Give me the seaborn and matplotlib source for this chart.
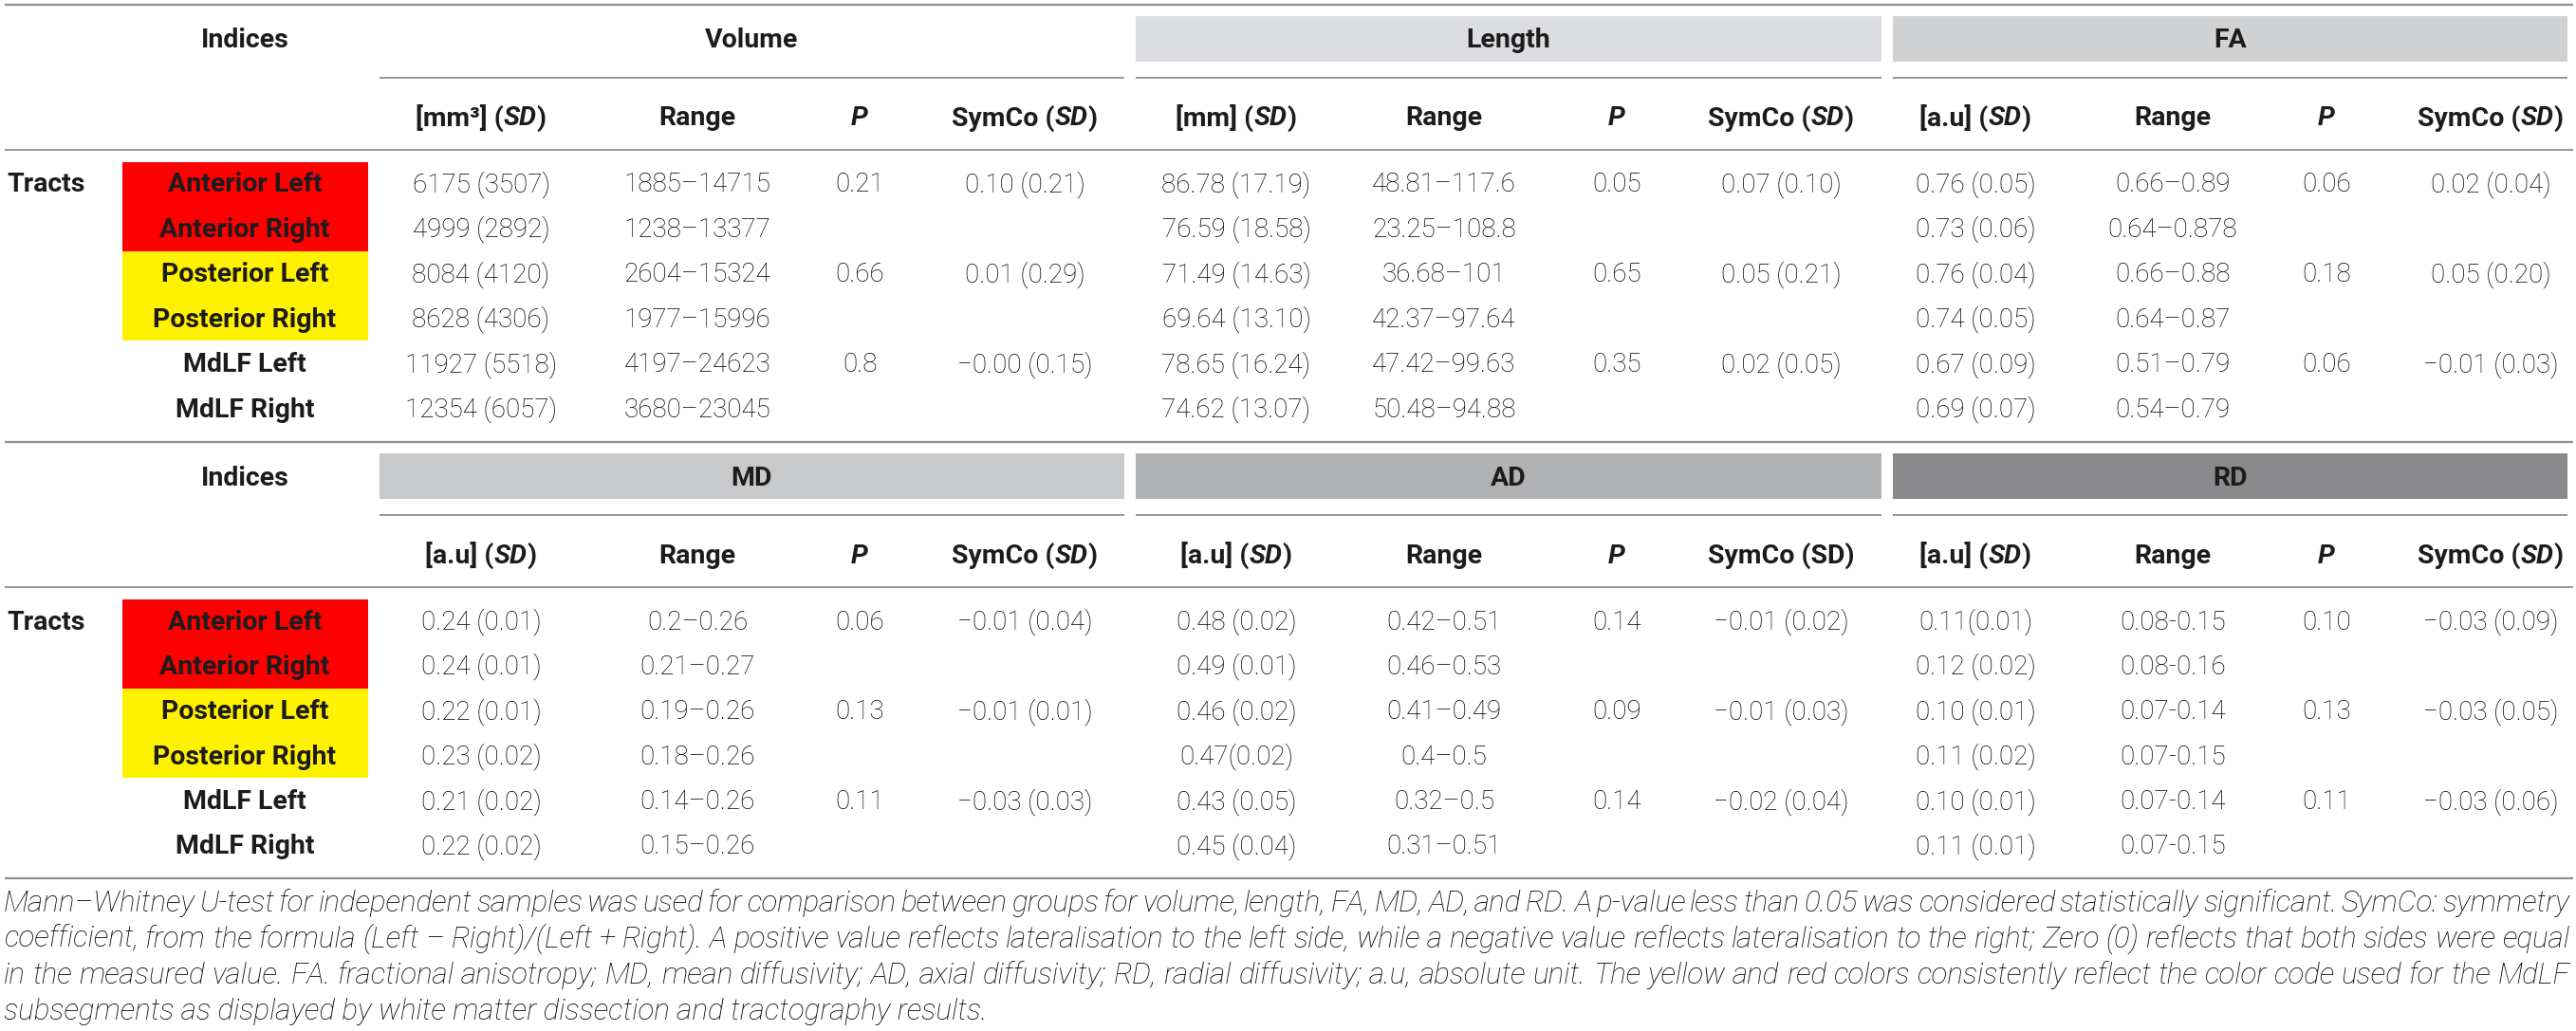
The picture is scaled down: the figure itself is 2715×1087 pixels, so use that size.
import matplotlib
matplotlib.use("Agg")
import matplotlib.pyplot as plt
import seaborn as sns

# ---------------- data ----------------
tracts = ["Anterior Left", "Anterior Right", "Posterior Left",
          "Posterior Right", "MdLF Left", "MdLF Right"]
tract_colors = ["#ff0000", "#ff0000", "#fff200", "#fff200", None, None]

volume_mean = ["6175 (3507)", "4999 (2892)", "8084 (4120)", "8628 (4306)", "11927 (5518)", "12354 (6057)"]
volume_range = ["1885–14715", "1238–13377", "2604–15324", "1977–15996", "4197–24623", "3680–23045"]
volume_p = ["0.21", "", "0.66", "", "0.8", ""]
volume_symco = ["0.10 (0.21)", "", "0.01 (0.29)", "", "−0.00 (0.15)", ""]

length_mean = ["86.78 (17.19)", "76.59 (18.58)", "71.49 (14.63)", "69.64 (13.10)", "78.65 (16.24)", "74.62 (13.07)"]
length_range = ["48.81–117.6", "23.25–108.8", "36.68–101", "42.37–97.64", "47.42–99.63", "50.48–94.88"]
length_p = ["0.05", "", "0.65", "", "0.35", ""]
length_symco = ["0.07 (0.10)", "", "0.05 (0.21)", "", "0.02 (0.05)", ""]

fa_mean = ["0.76 (0.05)", "0.73 (0.06)", "0.76 (0.04)", "0.74 (0.05)", "0.67 (0.09)", "0.69 (0.07)"]
fa_range = ["0.66–0.89", "0.64–0.878", "0.66–0.88", "0.64–0.87", "0.51–0.79", "0.54–0.79"]
fa_p = ["0.06", "", "0.18", "", "0.06", ""]
fa_symco = ["0.02 (0.04)", "", "0.05 (0.20)", "", "−0.01 (0.03)", ""]

md_mean = ["0.24 (0.01)", "0.24 (0.01)", "0.22 (0.01)", "0.23 (0.02)", "0.21 (0.02)", "0.22 (0.02)"]
md_range = ["0.2–0.26", "0.21–0.27", "0.19–0.26", "0.18–0.26", "0.14–0.26", "0.15–0.26"]
md_p = ["0.06", "", "0.13", "", "0.11", ""]
md_symco = ["−0.01 (0.04)", "", "−0.01 (0.01)", "", "−0.03 (0.03)", ""]

ad_mean = ["0.48 (0.02)", "0.49 (0.01)", "0.46 (0.02)", "0.47(0.02)", "0.43 (0.05)", "0.45 (0.04)"]
ad_range = ["0.42–0.51", "0.46–0.53", "0.41–0.49", "0.4–0.5", "0.32–0.5", "0.31–0.51"]
ad_p = ["0.14", "", "0.09", "", "0.14", ""]
ad_symco = ["−0.01 (0.02)", "", "−0.01 (0.03)", "", "−0.02 (0.04)", ""]

rd_mean = ["0.11(0.01)", "0.12 (0.02)", "0.10 (0.01)", "0.11 (0.02)", "0.10 (0.01)", "0.11 (0.01)"]
rd_range = ["0.08-0.15", "0.08-0.16", "0.07-0.14", "0.07-0.15", "0.07-0.14", "0.07-0.15"]
rd_p = ["0.10", "", "0.13", "", "0.11", ""]
rd_symco = ["−0.03 (0.09)", "", "−0.03 (0.05)", "", "−0.03 (0.06)", ""]

top_groups = ["Volume", "Length", "FA"]
bottom_groups = ["MD", "AD", "RD"]
top_group_colors = [None, "#dcdde0", "#d0d1d3"]
bottom_group_colors = ["#c8c9cb", "#b1b2b4", "#8a8a8c"]

top_units = [[("[mm³] (", "normal"), ("SD", "italic"), (")", "normal")],
             [("[mm] (", "normal"), ("SD", "italic"), (")", "normal")],
             [("[a.u] (", "normal"), ("SD", "italic"), (")", "normal")]]
bottom_units = [[("[a.u] (", "normal"), ("SD", "italic"), (")", "normal")]] * 3
symco_hdr = [("SymCo (", "normal"), ("SD", "italic"), (")", "normal")]
symco_hdr_plain = [("SymCo (SD)", "normal")]

caption_lines = [
    "Mann–Whitney U-test for independent samples was used for comparison between groups for volume, length, FA, MD, AD, and RD. A p-value less than 0.05 was considered statistically significant. SymCo: symmetry",
    "coefficient, from the formula (Left – Right)/(Left + Right). A positive value reflects lateralisation to the left side, while a negative value reflects lateralisation to the right; Zero (0) reflects that both sides were equal",
    "in the measured value. FA. fractional anisotropy; MD, mean diffusivity; AD, axial diffusivity; RD, radial diffusivity; a.u, absolute unit. The yellow and red colors consistently reflect the color code used for the MdLF",
    "subsegments as displayed by white matter dissection and tractography results.",
]

# ---------------- style ----------------
sns.set_theme(style="white")
FONT = ["Roboto", "DejaVu Sans"]
plt.rcParams["font.family"] = FONT
TXT = "#1e1b1c"
DATA_TXT = "#000000"
LINE = "#8f8f8f"
FSB = 20.5     # bold header / names
FSL = 20.0     # light data
CFS = 22.6     # caption

W, H = 2715, 1087
fig = plt.figure(figsize=(W / 100, H / 100), dpi=100)
ax = fig.add_axes([0, 0, 1, 1])
ax.set_xlim(0, W)
ax.set_ylim(H, 0)
ax.axis("off")
sns.despine(ax=ax, left=True, bottom=True)
renderer = fig.canvas.get_renderer()

col_x = [507, 735, 906, 1080, 1303, 1522, 1704, 1877, 2082, 2290, 2452, 2625]
spans = [(400, 1185), (1197, 1983), (1995, 2706)]
name_x = 258
box_x0, box_x1 = 129, 388
ROWH = 47.4
BASE_OFF = 9.5


def text_width(s, fs, **kw):
    t = ax.text(0, 0, s, fontsize=fs, **kw)
    bb = t.get_window_extent(renderer=renderer)
    t.remove()
    return bb.width


def rich(xc, yc, segs, weight="bold", fs=FSB):
    widths = [text_width(s, fs, fontstyle=st, fontweight=weight) for s, st in segs]
    x = xc - sum(widths) / 2
    for (s, st), w in zip(segs, widths):
        ax.text(x, yc + BASE_OFF, s, fontsize=fs, fontstyle=st, fontweight=weight,
                color=TXT, ha="left", va="baseline")
        x += w


def hline(y, x0=5, x1=2712, lw=1.3):
    ax.plot([x0, x1], [y, y], color=LINE, lw=lw, solid_capstyle="butt")


def draw_table(y_top, groups, gcolors, units, blocks, symco_variants):
    band_top = y_top + 12
    band_bot = y_top + 60
    for (x0, x1), g, c in zip(spans, groups, gcolors):
        if c is not None:
            ax.add_patch(plt.Rectangle((x0, band_top), x1 - x0, band_bot - band_top,
                                       facecolor=c, edgecolor="none"))
        ax.text((x0 + x1) / 2, (band_top + band_bot) / 2 + BASE_OFF, g, fontsize=FSB,
                fontweight="bold", color=TXT, ha="center", va="baseline")
        hline(y_top + 77, x0, x1, lw=1.3)
    ax.text(name_x, (band_top + band_bot) / 2 + BASE_OFF, "Indices", fontsize=FSB,
            fontweight="bold", color=TXT, ha="center", va="baseline")
    hy = y_top + 118
    for gi in range(3):
        rich(col_x[gi * 4], hy, units[gi])
        rich(col_x[gi * 4 + 1], hy, [("Range", "normal")])
        rich(col_x[gi * 4 + 2], hy, [("P", "italic")])
        rich(col_x[gi * 4 + 3], hy, symco_variants[gi])
    hline(y_top + 153)
    row0 = y_top + 188
    box_top = y_top + 166
    for i, (name, c) in enumerate(zip(tracts, tract_colors)):
        if c is not None:
            ax.add_patch(plt.Rectangle((box_x0, box_top + i * 47), box_x1 - box_x0, 47,
                                       facecolor=c, edgecolor="none"))
        y = row0 + i * ROWH + BASE_OFF
        ax.text(name_x, y, name, fontsize=FSB, fontweight="bold", color=TXT,
                ha="center", va="baseline")
    ax.text(7, row0 + BASE_OFF, "Tracts", fontsize=FSB, fontweight="bold", color=TXT,
            ha="left", va="baseline")
    for ci, col in enumerate(blocks):
        for i, v in enumerate(col):
            if v:
                ax.text(col_x[ci], row0 + i * ROWH + BASE_OFF, v, fontsize=FSL,
                        fontweight="light", color=DATA_TXT, ha="center", va="baseline")


hline(5, lw=1.6)
draw_table(5, top_groups, top_group_colors, top_units,
           [volume_mean, volume_range, volume_p, volume_symco,
            length_mean, length_range, length_p, length_symco,
            fa_mean, fa_range, fa_p, fa_symco],
           [symco_hdr, symco_hdr, symco_hdr])
hline(466, lw=1.6)
draw_table(466, bottom_groups, bottom_group_colors, bottom_units,
           [md_mean, md_range, md_p, md_symco,
            ad_mean, ad_range, ad_p, ad_symco,
            rd_mean, rd_range, rd_p, rd_symco],
           [symco_hdr, symco_hdr_plain, symco_hdr])
hline(926, lw=1.6)

# caption, justified
cap_base = [961, 999, 1037, 1075]
x_left, x_right = 4, 2708
kw = dict(fontsize=CFS, fontstyle="italic", fontweight="light", color=DATA_TXT)
for li, (line, yb) in enumerate(zip(caption_lines, cap_base)):
    words = line.split(" ")
    if li == len(caption_lines) - 1:
        ax.text(x_left, yb, line, ha="left", va="baseline", **kw)
        continue
    ws = []
    for w_ in words:
        t = ax.text(0, 0, w_, **kw)
        ws.append(t.get_window_extent(renderer=renderer).width)
        t.remove()
    gap = (x_right - x_left - sum(ws)) / (len(words) - 1)
    x = x_left
    for w_, wd in zip(words, ws):
        ax.text(x, yb, w_, ha="left", va="baseline", **kw)
        x += wd + gap

fig.savefig("out.png", dpi=100)
